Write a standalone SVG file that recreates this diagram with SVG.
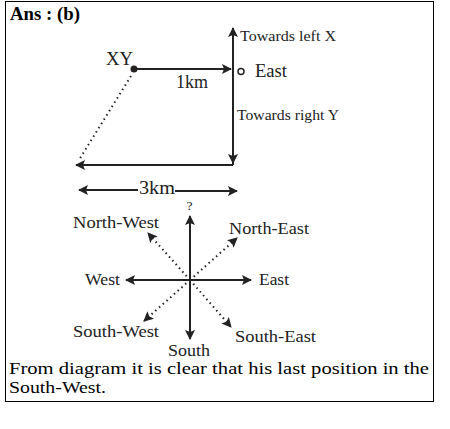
<svg xmlns="http://www.w3.org/2000/svg" width="450" height="429" viewBox="0 0 450 429">
<style>
text{font-family:"Liberation Serif","Times New Roman",serif;fill:#222}
.ln{stroke:#222;stroke-width:2;fill:none}
.dt{stroke:#222;stroke-width:2;fill:none;stroke-dasharray:1.5 3.5}
</style>
<defs>
<marker id="ah" viewBox="0 0 10 10" refX="9" refY="5" markerWidth="5.5" markerHeight="5" orient="auto" markerUnits="strokeWidth">
<path d="M0,0 L10,5 L0,10 L2,5 z" fill="#222"/>
</marker>
</defs>
<rect x="5.5" y="1.5" width="428" height="400" fill="#fff" stroke="#000" stroke-width="1"/>
<text x="10" y="20" font-size="18" textLength="70" lengthAdjust="spacingAndGlyphs" style="font-weight:bold;fill:#000">Ans : (b)</text>
<g id="connectors">
<line class="ln" x1="233" y1="165" x2="233" y2="28" marker-end="url(#ah)"/>
<line class="ln" x1="233" y1="100" x2="233" y2="163" marker-end="url(#ah)"/>
<line class="ln" x1="233" y1="165" x2="76" y2="165" marker-end="url(#ah)"/>
<line class="ln" x1="134" y1="69" x2="231" y2="69" marker-end="url(#ah)"/>
<line class="dt" x1="131" y1="76" x2="79" y2="160"/>
<line class="ln" x1="138" y1="190" x2="79" y2="190" marker-end="url(#ah)"/>
<line class="ln" x1="175" y1="191" x2="237" y2="191" marker-end="url(#ah)"/>
<line class="ln" x1="190" y1="280" x2="190" y2="216" marker-end="url(#ah)"/>
<line class="ln" x1="190" y1="280" x2="190" y2="339" marker-end="url(#ah)"/>
<line class="ln" x1="190" y1="280" x2="126" y2="280" marker-end="url(#ah)"/>
<line class="ln" x1="190" y1="280" x2="251" y2="280" marker-end="url(#ah)"/>
<line class="dt" x1="190" y1="280" x2="148" y2="233" marker-end="url(#ah)"/>
<line class="dt" x1="190" y1="280" x2="237" y2="238" marker-end="url(#ah)"/>
<line class="dt" x1="190" y1="280" x2="144" y2="321" marker-end="url(#ah)"/>
<line class="dt" x1="190" y1="280" x2="231" y2="327" marker-end="url(#ah)"/>
</g>
<g id="xy"><circle cx="134" cy="69" r="3.5" fill="#222"/><text x="106" y="65" font-size="18" textLength="27" lengthAdjust="spacingAndGlyphs">XY</text></g>
<g id="lbl-1km"><text x="176" y="88" font-size="18" textLength="32" lengthAdjust="spacingAndGlyphs">1km</text></g>
<g id="east-pt"><circle cx="241" cy="71.5" r="3" fill="#fff" stroke="#222" stroke-width="1.5"/><text x="255" y="77" font-size="19" textLength="32" lengthAdjust="spacingAndGlyphs">East</text></g>
<g id="left-x"><text x="240" y="40.5" font-size="14.5" textLength="96" lengthAdjust="spacingAndGlyphs">Towards left X</text></g>
<g id="right-y"><text x="237" y="120" font-size="14.5" textLength="102" lengthAdjust="spacingAndGlyphs">Towards right Y</text></g>
<g id="lbl-3km"><text x="139" y="194" font-size="18" textLength="36" lengthAdjust="spacingAndGlyphs">3km</text></g>
<g id="q"><text x="186.5" y="210" font-size="13" textLength="6" lengthAdjust="spacingAndGlyphs">?</text></g>
<g id="nw"><text x="73" y="228" font-size="17" textLength="86" lengthAdjust="spacingAndGlyphs">North-West</text></g>
<g id="ne"><text x="229" y="234" font-size="17" textLength="80" lengthAdjust="spacingAndGlyphs">North-East</text></g>
<g id="w"><text x="85" y="285" font-size="17" textLength="35" lengthAdjust="spacingAndGlyphs">West</text></g>
<g id="e"><text x="259" y="285" font-size="17" textLength="30" lengthAdjust="spacingAndGlyphs">East</text></g>
<g id="sw"><text x="73" y="337" font-size="17" textLength="86" lengthAdjust="spacingAndGlyphs">South-West</text></g>
<g id="se"><text x="235" y="342" font-size="17" textLength="81" lengthAdjust="spacingAndGlyphs">South-East</text></g>
<g id="s"><text x="168" y="356" font-size="16" textLength="42" lengthAdjust="spacingAndGlyphs">South</text></g>
<text x="9" y="374" font-size="17.5" style="fill:#000" textLength="420" lengthAdjust="spacingAndGlyphs">From diagram it is clear that his last position in the</text>
<text x="9" y="392.5" font-size="17.5" style="fill:#000" textLength="97" lengthAdjust="spacingAndGlyphs">South-West.</text>
</svg>
